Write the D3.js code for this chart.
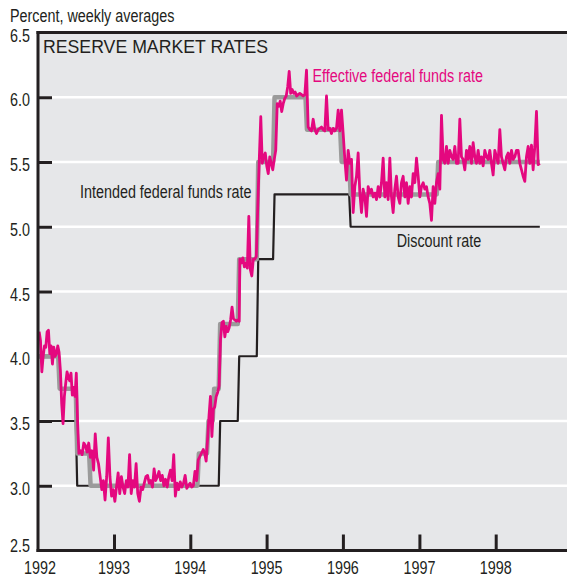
<!DOCTYPE html>
<html>
<head>
<meta charset="utf-8">
<script src="https://cdn.jsdelivr.net/npm/d3@7/dist/d3.min.js"></script>
<style>
  html, body { margin: 0; padding: 0; background: #ffffff; }
  svg { display: block; }
</style>
</head>
<body>
<svg id="chart" width="567" height="580"></svg>
<script>
// ---------------- DATA ----------------
const yTicks = [3.0, 3.5, 4.0, 4.5, 5.0, 5.5, 6.0];
const yLabels = ["2.5", "3.0", "3.5", "4.0", "4.5", "5.0", "5.5", "6.0", "6.5"];
const xTickYears = [1992, 1993, 1994, 1995, 1996, 1997, 1998];

// Intended federal funds rate: change dates and levels
const intendedDates = ["1992-01-01", "1992-04-09", "1992-07-02", "1992-09-04", "1994-02-04", "1994-03-22",
  "1994-04-18", "1994-05-17", "1994-08-16", "1994-11-15", "1995-02-01", "1995-07-06", "1995-12-19",
  "1996-01-31", "1997-03-25"];
const intendedLevels = [4.0, 3.75, 3.25, 3.0, 3.25, 3.5, 3.75, 4.25, 4.75, 5.5, 6.0, 5.75, 5.5, 5.25, 5.5];
const intendedEnd = "1998-07-31";

// Discount rate: change dates and levels
const discountDates = ["1992-01-01", "1992-07-02", "1994-05-17", "1994-08-16", "1994-11-15", "1995-02-01", "1996-01-31"];
const discountLevels = [3.5, 3.0, 3.5, 4.0, 4.75, 5.25, 5.0];
const discountEnd = "1998-07-31";

// Effective federal funds rate, weekly averages, in consecutive spans
const effSpanDates = [
  ["1992-01-09", "1992-07-11"],
  ["1992-07-17", "1994-02-08"],
  ["1994-03-04", "1994-08-23"],
  ["1994-08-26", "1995-06-01"],
  ["1995-06-09", "1998-07-31"]
];
const eff1992a = [4.19, 4.12, 3.88, 4.0, 4.08, 4.07, 4.19, 4.2, 4.02, 4.08,
  3.94, 4.07, 4.0, 4.02, 4.08, 4.03, 3.89, 3.63, 3.48, 3.69,
  3.79, 3.88, 3.84, 3.81, 3.87, 3.70, 3.76, 3.69, 3.87, 3.48];
const eff1992b = [3.25, 3.27, 3.24, 3.33, 3.31, 3.26, 3.33, 3.22, 3.27, 3.12,
  3.40, 3.22, 3.17, 3.07, 2.97, 3.04, 2.89, 3.07, 3.37, 3.07,
  2.92, 2.97, 2.88, 2.99, 3.1, 2.94, 3.07, 2.99, 2.94, 3.04,
  2.99, 3.24, 2.94, 3.04, 2.99, 3.17, 2.94, 2.88, 2.99, 2.97,
  3.02, 3.07, 3.08, 3.02, 3.04, 2.99, 3.13, 3.04, 3.07, 3.11,
  3.04, 3.08, 3.0, 3.05, 2.99, 3.07, 3.12, 3.04, 3.24, 2.92,
  3.02, 2.97, 3.03, 2.99, 3.02, 3.08, 2.98, 3.0, 3.02, 2.99,
  3.0, 3.11, 3.04, 3.2];
const eff1994a = [3.28, 3.25, 3.19, 3.36, 3.54, 3.69, 3.38, 3.59, 3.61, 3.69,
  3.72, 3.77, 4.13, 4.26, 4.27, 4.15, 4.23, 4.19, 4.22, 4.28,
  4.38, 4.29, 4.28, 4.27, 4.28, 4.27];
const eff1994b = [4.75, 4.72, 4.76, 4.69, 4.72, 4.68, 5.08, 4.67, 4.62, 4.75,
  4.75, 4.77, 5.16, 5.52, 5.85, 5.49, 5.54, 5.57, 5.47, 5.41,
  5.54, 5.49, 5.44, 5.52, 5.59, 5.95, 5.93, 5.97, 5.89, 5.95,
  5.99, 6.01, 6.08, 6.20, 6.03, 6.06, 6.03, 6.04, 6.01, 6.02];
const eff1995 = [6.03, 6.02, 6.01, 6.02, 6.21, 5.77, 5.75, 5.74, 5.83, 5.75,
  5.72, 5.75, 5.76, 5.77, 5.75, 5.74, 6.01, 5.75, 5.76, 5.72,
  5.76, 5.74, 5.76, 5.90, 5.74, 5.90, 5.72, 5.52, 5.36, 5.59,
  5.49, 5.52, 5.11, 5.31, 5.39, 5.57, 5.26, 5.11, 5.29, 5.23,
  5.08, 5.31, 5.26, 5.29, 5.23, 5.26, 5.21, 5.31, 5.23, 5.34,
  5.53, 5.23, 5.34, 5.21, 5.53, 5.23, 5.11, 5.29, 5.39, 5.23,
  5.18, 5.34, 5.39, 5.23, 5.34, 5.18, 5.31, 5.23, 5.41, 5.34,
  5.53, 5.39, 5.23, 5.31, 5.34, 5.29, 5.31, 5.23, 5.18, 5.05,
  5.31, 5.18, 5.34, 5.41, 5.29, 5.86, 5.52, 5.49, 5.62, 5.49,
  5.59, 5.54, 5.52, 5.62, 5.49, 5.49, 5.83, 5.54, 5.52, 5.44,
  5.59, 5.52, 5.62, 5.49, 5.65, 5.54, 5.49, 5.59, 5.49, 5.54,
  5.47, 5.59, 5.54, 5.52, 5.59, 5.49, 5.40, 5.59, 5.54, 5.49,
  5.75, 5.54, 5.49, 5.44, 5.54, 5.57, 5.49, 5.59, 5.52, 5.54,
  5.59, 5.59, 5.49, 5.44, 5.39, 5.35, 5.54, 5.62, 5.49, 5.63,
  5.44, 5.62, 5.89, 5.48, 5.49];
const effSpanValues = [eff1992a, eff1992b, eff1994a, eff1994b, eff1995];

const titleText = "RESERVE MARKET RATES";
const unitText = "Percent, weekly averages";
const seriesLabels = ["Effective federal funds rate", "Intended federal funds rate", "Discount rate"];

// ---------------- CHART ----------------
const svg = d3.select("#chart");
const parse = d3.timeParse("%Y-%m-%d");

const plotLeft = 38, plotRight = 567, plotTop = 32.5, plotBottom = 550.5;

const x = d3.scaleTime()
  .domain([new Date(1992, 0, 1), new Date(1999, 0, 1)])
  .range([37.5, 572]);
const y = d3.scaleLinear().domain([2.5, 6.5]).range([plotBottom, plotTop]);

const ink = "#231f20";
const pink = "#e4087f";
const grayLine = "#9b9b9b";
const sans = "'Liberation Sans', Arial, Helvetica, sans-serif";
const condense = 0.82;

// condensed text: regular sans squeezed horizontally
function narrowText(sel) {
  sel.attr("font-family", sans).each(function () {
    const w = this.getComputedTextLength();
    d3.select(this).attr("textLength", w * condense).attr("lengthAdjust", "spacingAndGlyphs");
  });
}

// background
svg.append("rect")
  .attr("x", plotLeft).attr("y", plotTop)
  .attr("width", plotRight - plotLeft).attr("height", plotBottom - plotTop)
  .attr("fill", "#e6e7e9");

// white grid lines
svg.append("g").selectAll("line").data(yTicks).join("line")
  .attr("x1", plotLeft).attr("x2", plotRight)
  .attr("y1", d => y(d)).attr("y2", d => y(d))
  .attr("stroke", "#ffffff").attr("stroke-width", 2.6);

// y tick marks (inward)
const yAxis = d3.axisRight(y).tickValues(yTicks).tickSize(14).tickFormat("");
const gy = svg.append("g").attr("transform", `translate(${plotLeft},0)`).call(yAxis);
gy.select(".domain").remove();
gy.selectAll(".tick line").attr("stroke", ink).attr("stroke-width", 3);

// x tick marks (inward, upward)
const xAxis = d3.axisTop(x)
  .tickValues(xTickYears.slice(1).map(yr => new Date(yr, 0, 1)))
  .tickSize(16).tickFormat("");
const gx = svg.append("g").attr("transform", `translate(0,${plotBottom})`).call(xAxis);
gx.select(".domain").remove();
gx.selectAll(".tick line").attr("stroke", ink).attr("stroke-width", 3);

// step series builder (weekly averages make each change take one week)
function stepPoints(dates, levels, endDate) {
  const pts = [];
  dates.forEach((ds, i) => {
    const d = parse(ds);
    if (i === 0) { pts.push([d, levels[0]]); return; }
    pts.push([d, levels[i - 1]]);
    pts.push([d3.timeDay.offset(d, 7), levels[i]]);
  });
  pts.push([parse(endDate), levels[levels.length - 1]]);
  return pts;
}

const line = d3.line().x(d => x(d[0])).y(d => y(d[1]));

// discount rate (black)
svg.append("path")
  .datum(stepPoints(discountDates, discountLevels, discountEnd))
  .attr("d", line).attr("fill", "none")
  .attr("stroke", ink).attr("stroke-width", 2.2).attr("stroke-linejoin", "round");

// intended rate (gray)
svg.append("path")
  .datum(stepPoints(intendedDates, intendedLevels, intendedEnd))
  .attr("d", line).attr("fill", "none")
  .attr("stroke", grayLine).attr("stroke-width", 4.5).attr("stroke-linejoin", "round");

// effective rate (pink)
const effPoints = [];
effSpanDates.forEach((span, si) => {
  const vals = effSpanValues[si];
  const t0 = parse(span[0]), t1 = parse(span[1]);
  const tScale = d3.scaleLinear().domain([0, vals.length - 1]).range([t0.getTime(), t1.getTime()]);
  vals.forEach((v, i) => effPoints.push([new Date(tScale(i)), v]));
});
svg.append("path")
  .datum(effPoints)
  .attr("d", line).attr("fill", "none")
  .attr("stroke", pink).attr("stroke-width", 2.8).attr("stroke-linejoin", "round");

// frame: top, left, bottom
svg.append("line").attr("x1", plotLeft - 1.5).attr("x2", plotRight).attr("y1", plotTop).attr("y2", plotTop)
  .attr("stroke", ink).attr("stroke-width", 3);
svg.append("line").attr("x1", plotLeft).attr("x2", plotLeft).attr("y1", plotTop - 1.5).attr("y2", plotBottom + 1.5)
  .attr("stroke", ink).attr("stroke-width", 3);
svg.append("line").attr("x1", plotLeft - 1.5).attr("x2", plotRight).attr("y1", plotBottom).attr("y2", plotBottom)
  .attr("stroke", ink).attr("stroke-width", 3);

// y labels
const yLabelVals = [2.5, 3.0, 3.5, 4.0, 4.5, 5.0, 5.5, 6.0, 6.5];
svg.append("g").selectAll("text").data(yLabelVals).join("text")
  .attr("x", 30)
  .attr("y", d => d === 2.5 ? y(d) + 1.5 : y(d) + 9)
  .attr("text-anchor", "end")
  .attr("font-size", 17.5).attr("fill", ink)
  .text((d, i) => yLabels[i])
  .call(narrowText);

// x labels
svg.append("g").selectAll("text").data(xTickYears).join("text")
  .attr("x", d => x(new Date(d, 0, 1)) + (d === 1992 ? 2.5 : 0))
  .attr("y", 574)
  .attr("text-anchor", "middle")
  .attr("font-size", 17.5).attr("fill", ink)
  .text(d => String(d))
  .call(narrowText);

// unit label
svg.append("text").attr("x", 10).attr("y", 21.5)
  .attr("font-size", 17.5).attr("fill", ink)
  .text(unitText).call(narrowText);

// title
svg.append("text").attr("x", 43).attr("y", 53.3)
  .attr("font-family", sans).attr("font-size", 17.7).attr("fill", ink)
  .text(titleText);

// series labels
svg.append("text").attr("x", 312.5).attr("y", 81.5)
  .attr("font-size", 17.5).attr("fill", pink)
  .text(seriesLabels[0]).call(narrowText);
svg.append("text").attr("x", 80).attr("y", 198.3)
  .attr("font-size", 17.5).attr("fill", ink)
  .text(seriesLabels[1]).call(narrowText);
svg.append("text").attr("x", 396.7).attr("y", 246.5)
  .attr("font-size", 17.5).attr("fill", ink)
  .text(seriesLabels[2]).call(narrowText);
</script>
</body>
</html>
